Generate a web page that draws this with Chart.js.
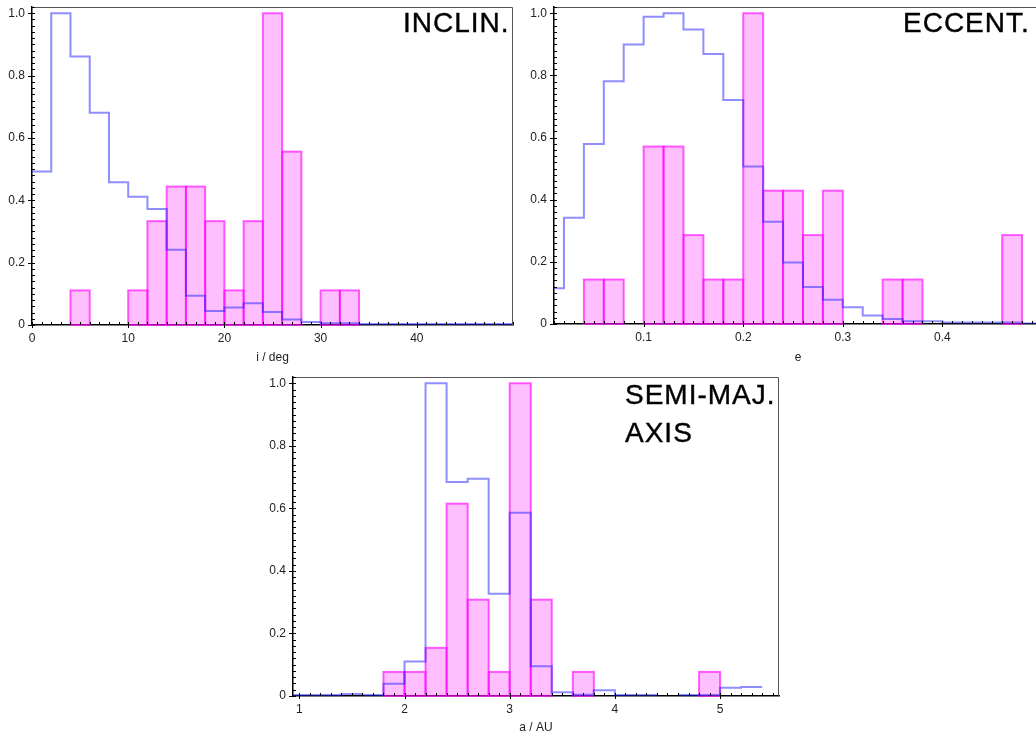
<!DOCTYPE html>
<html>
<head>
<meta charset="utf-8">
<script src="https://cdn.jsdelivr.net/npm/chart.js@4.4.1/dist/chart.umd.min.js"></script>
<style>
  html, body { margin: 0; padding: 0; background: #fff; overflow: hidden; }
  body { width: 1036px; height: 737px; position: relative; }
  .box { position: absolute; }
  .box canvas { display: block; }
  .tag {
    position: absolute;
    font-family: 'Liberation Sans', Arial, sans-serif;
    font-size: 28px;
    line-height: 38px;
    letter-spacing: 1px;
    color: #000;
    -webkit-text-stroke: 0.4px #000;
    white-space: nowrap;
  }
</style>
</head>
<body>
<div class="box" style="left:0;top:0"><canvas id="incl" width="520" height="370"></canvas></div>
<div class="box" style="left:515px;top:0"><canvas id="ecc" width="527" height="370"></canvas></div>
<div class="box" style="left:250px;top:370px"><canvas id="semi" width="540" height="367"></canvas></div>

<div class="tag" style="left:403px;top:4px">INCLIN.</div>
<div class="tag" style="left:903px;top:4px">ECCENT.</div>
<div class="tag" style="left:625px;top:376px">SEMI-MAJ.<br>AXIS</div>

<script>
// shared y axis
const yTicks = [0, 0.2, 0.4, 0.6, 0.8, 1.0];
const yTickLabels = ['0', '0.2', '0.4', '0.6', '0.8', '1.0'];

// inclination, bins of 2 deg from 0
const inclStart = 0;
const inclWidth = 2;
const inclAll = [0.492, 1.0, 0.861, 0.681, 0.458, 0.411, 0.372, 0.241, 0.094, 0.045,
                 0.056, 0.070, 0.042, 0.018, 0.010, 0.006, 0.006, 0.003, 0.003, 0.003,
                 0.003, 0.003, 0.003, 0.003, 0.003];
const inclSample = [0, 0, 0.111, 0, 0, 0.111, 0.333, 0.444, 0.444, 0.333,
                    0.111, 0.333, 1.0, 0.556, 0, 0.111, 0.111];
const inclXTicks = [0, 10, 20, 30, 40];
const inclXLabels = ['0', '10', '20', '30', '40'];

// eccentricity, bins of 0.02 from 0
const eccStart = 0;
const eccWidth = 0.02;
const eccAll = [0.115, 0.342, 0.579, 0.781, 0.899, 0.989, 1.0, 0.948, 0.869, 0.721,
                0.507, 0.329, 0.198, 0.119, 0.078, 0.054, 0.027, 0.016, 0.009, 0.009,
                0.005, 0.005, 0.005, 0.005, 0.002];
const eccSample = [0, 0, 0.143, 0.143, 0, 0.571, 0.571, 0.286, 0.143, 0.143,
                   1.0, 0.429, 0.429, 0.286, 0.429, 0, 0, 0.143, 0.143, 0,
                   0, 0, 0, 0.286, 0];
const eccXTicks = [0.1, 0.2, 0.3, 0.4];
const eccXLabels = ['0.1', '0.2', '0.3', '0.4'];

// semi-major axis, bins of 0.2 AU from 0.8
const semiStart = 0.8;
const semiWidth = 0.2;
const semiAll = [0.003, 0.003, 0.003, 0.006, 0.003, 0.039, 0.110, 1.0, 0.684, 0.695,
                 0.327, 0.586, 0.095, 0.012, 0.004, 0.018, 0.003, 0.003, null, 0.003,
                 0.003, 0.026, 0.029];
const semiSample = [0, 0, 0, 0, 0, 0.077, 0.077, 0.154, 0.615, 0.308,
                    0.077, 1.0, 0.308, 0, 0.077, 0, 0, 0, 0, 0,
                    0.077];
const semiXTicks = [1, 2, 3, 4, 5];
const semiXLabels = ['1', '2', '3', '4', '5'];

const BLUE = 'rgba(30, 30, 255, 0.5)';
const PINK_FILL = 'rgba(255, 0, 255, 0.25)';
const PINK_EDGE = 'rgba(255, 0, 255, 0.6)';

Chart.defaults.font.family = "'Liberation Sans', Arial, sans-serif";
Chart.defaults.font.size = 12;
Chart.defaults.color = '#222';

function stepPoints(start, width, values) {
    const pts = [];
    values.forEach((v, i) => {
        const x0 = start + i * width;
        if (v === null) {
            pts.push({ x: x0, y: null });
            return;
        }
        pts.push({ x: x0, y: v }, { x: x0 + width, y: v });
    });
    return pts;
}

function barPoints(start, width, values) {
    return values
        .map((v, i) => ({ x: start + (i + 0.5) * width, y: v }))
        .filter(p => p.y > 0);
}

// stroke the bar outlines centred on the edges, so shared edges get darker
const barOutline = {
    id: 'barOutline',
    afterDatasetDraw(chart, args) {
        if (args.meta.type !== 'bar') return;
        const ctx = chart.ctx;
        ctx.save();
        ctx.strokeStyle = PINK_EDGE;
        ctx.lineWidth = 2;
        args.meta.data.forEach(el => {
            const { x, y, base, width } = el.getProps(['x', 'y', 'base', 'width'], true);
            ctx.strokeRect(x - width / 2, y, width, base - y);
        });
        ctx.restore();
    }
};

// top/right frame plus inward minor ticks and outward major ticks
const frame = {
    id: 'frame',
    afterDraw(chart, args, opts) {
        const { ctx, chartArea: a, scales: { x, y } } = chart;
        ctx.save();
        ctx.strokeStyle = '#555';
        ctx.lineWidth = 1;
        ctx.beginPath();
        ctx.moveTo(a.left, a.top + 0.5);
        ctx.lineTo(a.right - 0.5, a.top + 0.5);
        ctx.lineTo(a.right - 0.5, a.bottom);
        ctx.stroke();

        ctx.strokeStyle = '#000';
        ctx.lineWidth = 1;
        ctx.beginPath();
        for (let k = Math.ceil(y.min / opts.yMinor); k * opts.yMinor <= y.max; k++) {
            const py = Math.round(y.getPixelForValue(k * opts.yMinor)) + 0.5;
            ctx.moveTo(a.left, py);
            ctx.lineTo(a.left + 3, py);
        }
        for (let k = Math.ceil(x.min / opts.xMinor); k * opts.xMinor <= x.max; k++) {
            const px = Math.round(x.getPixelForValue(k * opts.xMinor)) + 0.5;
            ctx.moveTo(px, a.bottom);
            ctx.lineTo(px, a.bottom - 3);
        }
        y.ticks.forEach(t => {
            const py = Math.round(y.getPixelForValue(t.value)) + 0.5;
            ctx.moveTo(a.left - 4, py);
            ctx.lineTo(a.left, py);
        });
        x.ticks.forEach(t => {
            const px = Math.round(x.getPixelForValue(t.value)) + 0.5;
            ctx.moveTo(px, a.bottom + 3);
            ctx.lineTo(px, a.bottom);
        });
        ctx.stroke();
        ctx.restore();
    }
};

function makeHist(id, cfg) {
    const ctx = document.getElementById(id).getContext('2d');
    return new Chart(ctx, {
        type: 'bar',
        data: {
            datasets: [
                {
                    type: 'line',
                    data: stepPoints(cfg.start, cfg.width, cfg.all),
                    borderColor: BLUE,
                    borderWidth: 2,
                    pointRadius: 0,
                    tension: 0,
                    fill: false,
                    spanGaps: false,
                    order: 1
                },
                {
                    type: 'bar',
                    data: barPoints(cfg.start, cfg.width, cfg.sample),
                    backgroundColor: PINK_FILL,
                    borderWidth: 0,
                    barPercentage: 1,
                    categoryPercentage: 1,
                    order: 2
                }
            ]
        },
        options: {
            responsive: false,
            animation: false,
            events: [],
            layout: { padding: { left: 0, top: 7, right: cfg.padRight, bottom: 0 } },
            plugins: {
                legend: { display: false },
                tooltip: { enabled: false },
                frame: { xMinor: cfg.xMinor, yMinor: 0.02 }
            },
            scales: {
                x: {
                    type: 'linear',
                    min: cfg.xMin,
                    max: cfg.xMax,
                    bounds: 'data',
                    offset: false,
                    grid: { display: false, drawTicks: false },
                    border: { display: true, color: '#000', width: 1.5 },
                    afterBuildTicks: s => { s.ticks = cfg.xTicks.map(v => ({ value: v })); },
                    afterFit: s => { s.height = cfg.xHeight; s.paddingLeft = 0; s.paddingRight = 0; },
                    ticks: {
                        padding: 6,
                        maxRotation: 0,
                        autoSkip: false,
                        callback: (v, i) => cfg.xLabels[i]
                    },
                    title: {
                        display: true,
                        text: cfg.xTitle,
                        color: '#222',
                        font: { size: 12 },
                        padding: { top: 0, bottom: cfg.titlePad }
                    }
                },
                y: {
                    type: 'linear',
                    min: 0,
                    max: 1.02,
                    bounds: 'data',
                    grid: { display: false, drawTicks: false },
                    border: { display: true, color: '#000', width: 1.5 },
                    afterBuildTicks: s => { s.ticks = yTicks.map(v => ({ value: v })); },
                    afterFit: s => { s.width = cfg.yWidth; s.paddingTop = 0; s.paddingBottom = 0; },
                    ticks: {
                        padding: 7,
                        autoSkip: false,
                        callback: (v, i) => yTickLabels[i]
                    }
                }
            }
        },
        plugins: [barOutline, frame]
    });
}

makeHist('incl', {
    start: inclStart, width: inclWidth, all: inclAll, sample: inclSample,
    xMin: 0, xMax: 50, xTicks: inclXTicks, xLabels: inclXLabels, xTitle: 'i / deg',
    xMinor: 1, yWidth: 32, xHeight: 45, padRight: 7, titlePad: 5
});

makeHist('ecc', {
    start: eccStart, width: eccWidth, all: eccAll, sample: eccSample,
    xMin: 0.01, xMax: 0.5, xTicks: eccXTicks, xLabels: eccXLabels, xTitle: 'e',
    xMinor: 0.01, yWidth: 39, xHeight: 46, padRight: 0, titlePad: 5
});

makeHist('semi', {
    start: semiStart, width: semiWidth, all: semiAll, sample: semiSample,
    xMin: 0.94, xMax: 5.56, xTicks: semiXTicks, xLabels: semiXLabels, xTitle: 'a / AU',
    xMinor: 0.1, yWidth: 43, xHeight: 41, padRight: 11, titlePad: 2
});
</script>
</body>
</html>
